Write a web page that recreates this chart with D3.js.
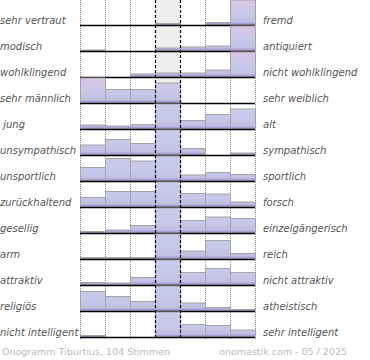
<!DOCTYPE html>
<html><head><meta charset="utf-8">
<script src="https://cdn.jsdelivr.net/npm/d3@7/dist/d3.min.js"></script>
<style>
html,body{margin:0;padding:0;background:#fff;}
svg{display:block;}
text{white-space:pre;}
</style></head>
<body><svg id="chart" width="370" height="360"></svg>
<script>
// ---- data ----
const leftLabels = ["sehr vertraut","modisch","wohlklingend","sehr männlich"," jung","unsympathisch","unsportlich","zurückhaltend","gesellig","arm","attraktiv","religiös","nicht intelligent"];
const rightLabels = ["fremd","antiquiert","nicht wohlklingend","sehr weiblich","alt","sympathisch","sportlich","forsch","einzelgängerisch","reich","nicht attraktiv","atheistisch","sehr intelligent"];
const steps = [1,2,3,4,5,6,7];
// share of votes (%) per step, one array per scale
const vertraut     = [0, 0, 0, 1.5, 0, 2.5, 96];
const modisch      = [1, 0, 0, 3, 4, 5, 87];
const wohlklingend = [0, 0, 3, 4, 4, 7, 82];
const maennlich    = [53, 13.5, 13.5, 20, 0, 0, 0];
const jung         = [4, 3, 4.5, 45.5, 8.5, 14.5, 20];
const sympathisch  = [10, 15.5, 11.5, 54.5, 6.5, 0, 2];
const sportlich    = [13.5, 22.5, 20, 27, 6, 8.5, 6.5];
const forsch       = [9.5, 15.5, 15.5, 28, 13.5, 13, 5];
const gesellig     = [1.5, 3, 7.5, 45, 12.5, 16, 14.5];
const reich        = [1.5, 1.5, 1.5, 63.5, 8, 18.5, 5.5];
const attraktiv    = [2.5, 2, 7.5, 46.5, 12.5, 16.5, 12.5];
const religioes    = [19.5, 14.5, 9.5, 43.5, 8, 3.5, 1.5];
const intelligent  = [1.5, 0, 0, 67.5, 12.5, 11.5, 7];
const rowValues = [vertraut, modisch, wohlklingend, maennlich, jung, sympathisch, sportlich, forsch, gesellig, reich, attraktiv, religioes, intelligent];
const rowGroups = ["name","name","name","name","person","person","person","person","person","person","person","person","person"];
const footerLeft = "Onogramm Tiburtius, 104 Stimmen";
const footerRight = "onomastik.com - 05 / 2025";

// ---- layout ----
const svg = d3.select("#chart");
const rowIdx = d3.range(leftLabels.length);
const yBase = d3.scalePoint().domain(rowIdx).range([25, 337]);
const rowH = 25;
const x = d3.scaleBand().domain(steps).range([80, 255]).padding(0);
const h = d3.scaleLinear().domain([0, 25]).range([0, rowH]).clamp(true);

const defs = svg.append("defs");
function grad(id, stops){
  const g = defs.append("linearGradient").attr("id", id)
    .attr("gradientUnits","userSpaceOnUse").attr("x1",0).attr("y1",0).attr("x2",0).attr("y2",rowH);
  stops.forEach(s => g.append("stop").attr("offset", s[0]).attr("stop-color", s[1]));
}
grad("g-name", [[0,"#dcc3e5"],[0.42,"#ccc8e8"],[0.6,"#c5c8e8"],[0.86,"#c0c1e4"],[0.93,"#ada5d6"],[1,"#9d8ec6"]]);
grad("g-person", [[0,"#c8cceb"],[0.6,"#c5c8e8"],[0.86,"#c0c1e4"],[0.93,"#ada5d6"],[1,"#9d8ec6"]]);

// middle column background
svg.append("rect").attr("x", x(4)).attr("y", 0).attr("width", x.bandwidth()).attr("height", yBase(12))
  .attr("fill", "#eeeeee");

// dotted gridlines
const edges = [80, 105, 130, 205, 230, 255];
svg.selectAll("line.dot").data(edges).join("line")
  .attr("x1", d => d + 0.5).attr("x2", d => d + 0.5).attr("y1", 0).attr("y2", 340)
  .attr("stroke", "#888").attr("stroke-width", 1).attr("stroke-dasharray", "1,1");

// rows
const rows = svg.selectAll("g.row").data(rowIdx).join("g")
  .attr("transform", i => `translate(0,${yBase(i) - rowH})`);

rows.selectAll("rect.bar").data(i => rowValues[i].map((v, k) => ({v, step: steps[k], g: rowGroups[i]})).filter(d => d.v > 0))
  .join("rect")
  .attr("x", d => x(d.step) + 0.5).attr("width", x.bandwidth())
  .attr("y", d => rowH - h(d.v)).attr("height", d => h(d.v))
  .attr("fill", d => `url(#g-${d.g})`)
  .attr("stroke", "#a4a4a4").attr("stroke-width", 1);

rows.append("line").attr("x1", 80).attr("x2", 255).attr("y1", rowH + 0.5).attr("y2", rowH + 0.5)
  .attr("stroke", "#000").attr("stroke-width", 1.5);

// dashed middle borders on top
svg.selectAll("line.dash").data([x(4), x(4) + x.bandwidth()]).join("line")
  .attr("x1", d => d + 0.5).attr("x2", d => d + 0.5).attr("y1", 0).attr("y2", yBase(12))
  .attr("stroke", "#000").attr("stroke-width", 1.2).attr("stroke-dasharray", "3,2");

// labels
const font = "'DejaVu Sans', Verdana, sans-serif";
svg.selectAll("text.left").data(rowIdx).join("text")
  .attr("x", 0).attr("y", i => yBase(i) - 1)
  .attr("font-family", font).attr("font-size", 10).attr("font-style", "italic").attr("fill", "#555")
  .text(i => leftLabels[i]);
svg.selectAll("text.right").data(rowIdx).join("text")
  .attr("x", 263).attr("y", i => yBase(i) - 1)
  .attr("font-family", font).attr("font-size", 10).attr("font-style", "italic").attr("fill", "#555")
  .text(i => rightLabels[i]);

svg.append("text").attr("x", 2).attr("y", 355)
  .attr("font-family", font).attr("font-size", 9.5).attr("fill", "#bbb").text(footerLeft);
svg.append("text").attr("x", 347).attr("y", 355).attr("text-anchor", "end")
  .attr("font-family", font).attr("font-size", 9.5).attr("fill", "#bbb").text(footerRight);
</script></body></html>
